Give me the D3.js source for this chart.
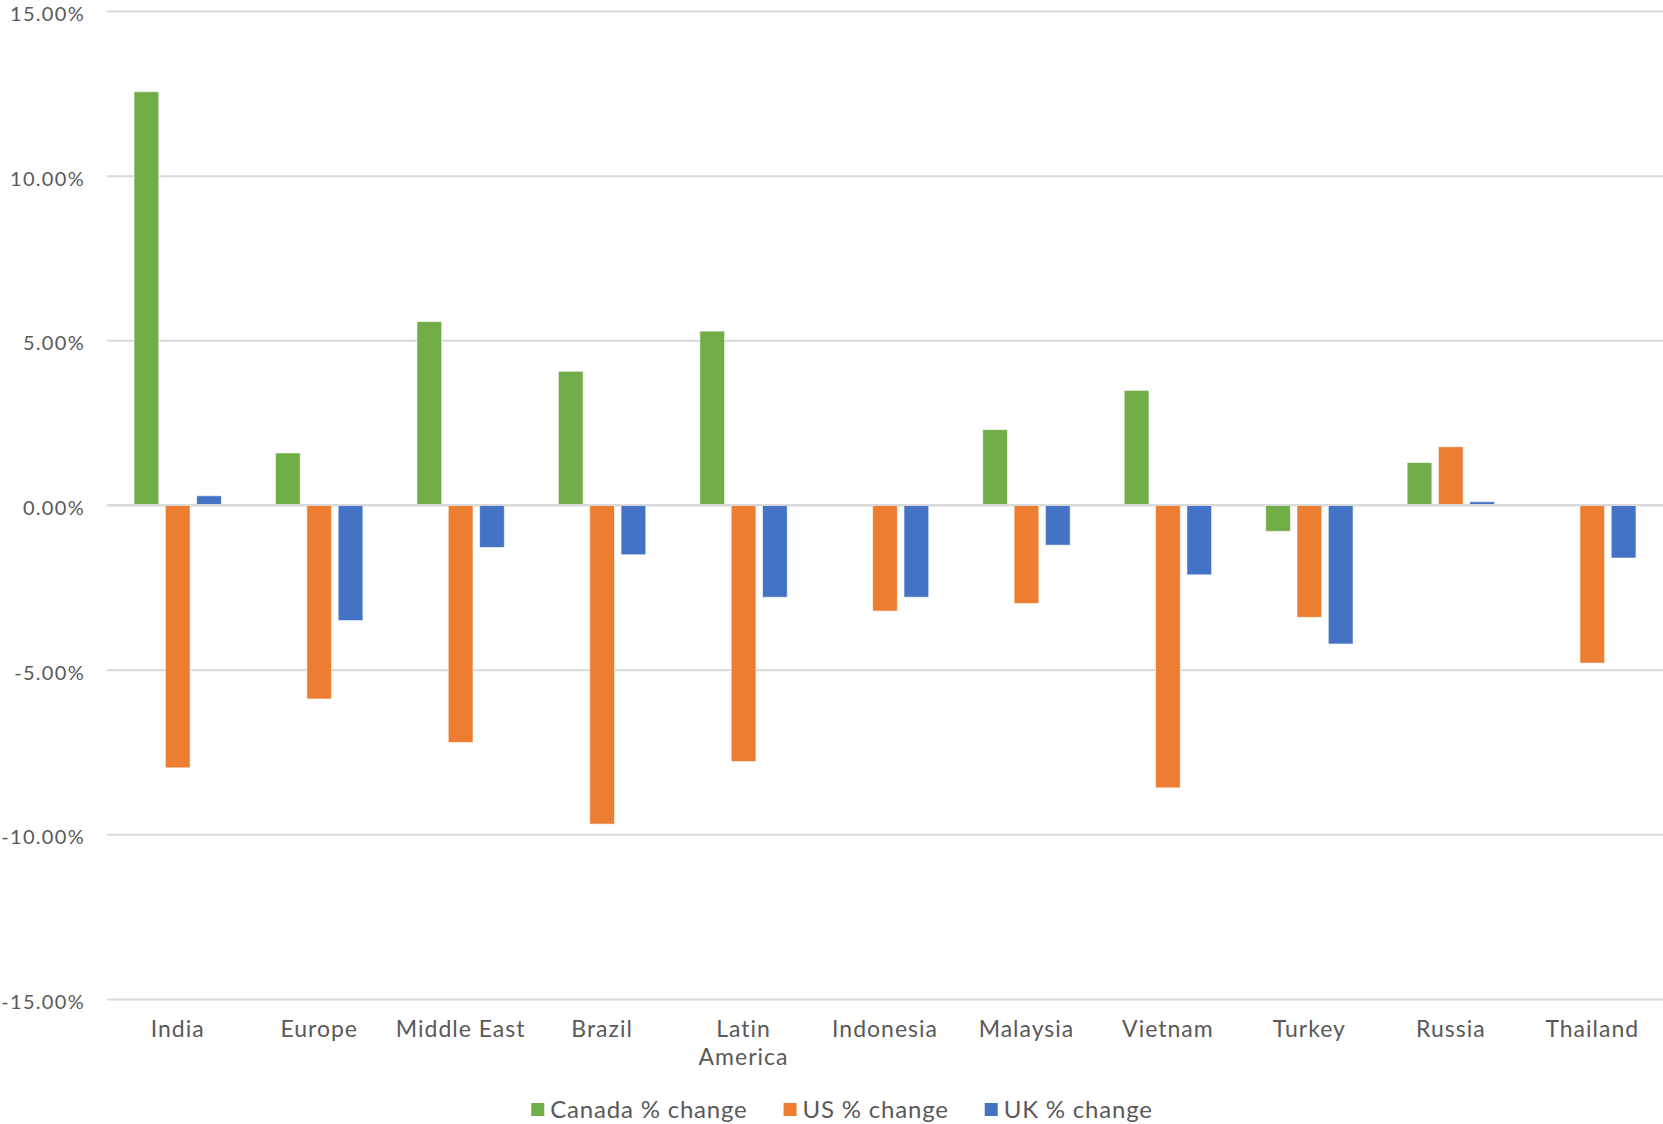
<!DOCTYPE html>
<html>
<head>
<meta charset="utf-8">
<script src="https://cdn.jsdelivr.net/npm/d3@7"></script>
<style>
  html, body { margin: 0; padding: 0; background: #fff; }
  svg { display: block; }
  text { font-family: Lato, "Open Sans", sans-serif; fill: #595959; }
</style>
</head>
<body>
<svg id="chart" width="1663" height="1124"></svg>
<script>
const categories = ["India", "Europe", "Middle East", "Brazil", "Latin America", "Indonesia", "Malaysia", "Vietnam", "Turkey", "Russia", "Thailand"];
const seriesNames = ["Canada % change", "US % change", "UK % change"];
const canada = [12.55, 1.58, 5.57, 4.06, 5.28, 0, 2.29, 3.48, -0.8, 1.29, 0];
const us = [-7.98, -5.89, -7.21, -9.69, -7.79, -3.22, -2.99, -8.59, -3.41, 1.77, -4.8];
const uk = [0.28, -3.51, -1.29, -1.51, -2.8, -2.8, -1.22, -2.12, -4.22, 0.1, -1.61];
const colors = ["#70AD47", "#ED7D31", "#4472C4"];
const yTicks = [-15, -10, -5, 0, 5, 10, 15];

(function() {
const seriesValues = [canada, us, uk];
const svg = d3.select("#chart");

const pLeft = 107, pRight = 1663, pTop = 11, pBottom = 999;

const x = d3.scaleBand().domain(categories).range([pLeft, pRight]).padding(0);
const bw = x.bandwidth();
const groupW = bw * 0.618;
const xSub = d3.scaleBand().domain(seriesNames)
  .range([(bw - groupW) / 2, (bw + groupW) / 2]).paddingInner(0.21);
const y = d3.scaleLinear().domain([-15, 15]).range([pBottom, pTop]);

// gridlines
const yAxis = d3.axisLeft(y).tickValues(yTicks).tickSize(-(pRight - pLeft))
  .tickFormat(d => d.toFixed(2) + "%").tickPadding(22);
const gy = svg.append("g").attr("transform", `translate(${pLeft},0)`).call(yAxis);
gy.select(".domain").remove();
gy.selectAll(".tick line").attr("stroke", "#d9d9d9").attr("stroke-width", 2);
gy.selectAll(".tick text").attr("font-size", 20).attr("letter-spacing", 1.3)
  .attr("fill", "#595959").attr("dy", "0.48em").attr("y", 0);

// bars
const data = [];
categories.forEach((c, i) => {
  seriesNames.forEach((s, j) => {
    data.push({ cat: c, series: s, value: seriesValues[j][i], color: colors[j] });
  });
});

svg.append("g").selectAll("rect").data(data.filter(d => d.value !== 0)).join("rect")
  .attr("x", d => x(d.cat) + xSub(d.series))
  .attr("width", xSub.bandwidth())
  .attr("y", d => Math.min(y(d.value), y(0)))
  .attr("height", d => Math.abs(y(d.value) - y(0)))
  .attr("fill", d => d.color)
  .attr("stroke", "#ffffff")
  .attr("stroke-opacity", 0.6)
  .attr("stroke-width", 1);

// zero line over bars
svg.append("line").attr("x1", pLeft).attr("x2", pRight).attr("y1", y(0)).attr("y2", y(0))
  .attr("stroke", "#d9d9d9").attr("stroke-width", 2);

// category labels
const xAxis = d3.axisBottom(x).tickSize(0).tickPadding(0);
const gx = svg.append("g").attr("transform", `translate(0,${pBottom})`).call(xAxis);
gx.select(".domain").remove();
gx.selectAll(".tick text").attr("font-size", 23).attr("letter-spacing", 1)
  .attr("fill", "#595959").attr("y", 30).attr("dy", "0.35em")
  .each(function(d) {
    const t = d3.select(this);
    if (d === "Latin America") {
      t.text(null);
      t.append("tspan").attr("x", 0).attr("dy", "0.35em").text("Latin");
      t.append("tspan").attr("x", 0).attr("dy", "28").text("America");
    }
  });

// legend
const legendItems = seriesNames.map((s, i) => ({ name: s, color: colors[i] }));
const legend = svg.append("g");
const ly = 1110;
const itemG = legend.selectAll("g").data(legendItems).join("g");
itemG.append("rect").attr("width", 13).attr("height", 13).attr("y", -7).attr("fill", d => d.color);
itemG.append("text").attr("x", 19).attr("dy", "0.35em").attr("font-size", 24)
  .attr("letter-spacing", 0.8).text(d => d.name);
const widths = [];
itemG.each(function() { widths.push(this.getBBox().width); });
const gap = 36;
const total = d3.sum(widths) + gap * (widths.length - 1);
let cur = 842 - total / 2;
itemG.attr("transform", (d, i) => {
  const tx = cur;
  cur += widths[i] + gap;
  return `translate(${tx},${ly})`;
});
})();
</script>
</body>
</html>
